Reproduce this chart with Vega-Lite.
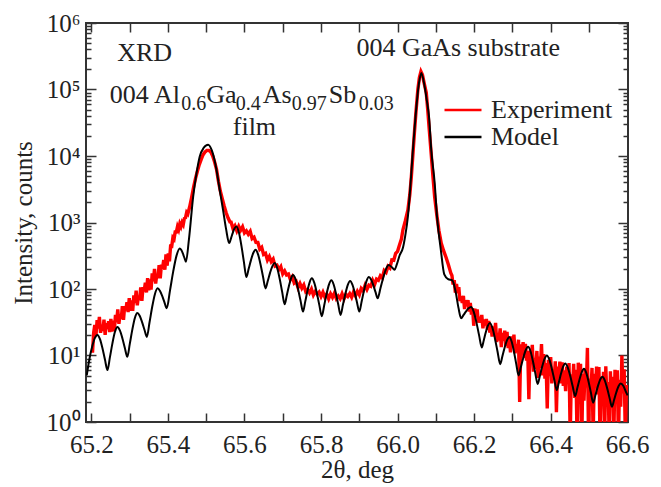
{
  "$schema": "https://vega.github.io/schema/vega-lite/v6.json",
  "width": 542,
  "height": 399,
  "autosize": {"type": "none"},
  "padding": {"left": 86, "top": 23, "right": 33, "bottom": 65},
  "background": "white",
  "config": {
    "font": "Liberation Serif",
    "view": {"stroke": "#333", "strokeWidth": 2},
    "axis": {"domain": false, "grid": false, "tickColor": "#333", "tickWidth": 1.5, "labelFont": "Liberation Serif", "labelFontSize": 25, "labelColor": "#222", "titleFont": "Liberation Serif", "titleFontSize": 25, "titleFontWeight": "normal", "titleColor": "#222", "labelFlush": false, "labelOverlap": false, "labelBound": false}
  },
  "datasets": {
    "exp": [
      {"two_theta":65.203,"counts":11},{"two_theta":65.206,"counts":22},{"two_theta":65.209,"counts":28.7},{"two_theta":65.212,"counts":19.7},{"two_theta":65.215,"counts":33.9},{"two_theta":65.218,"counts":25.5},{"two_theta":65.221,"counts":38.0},{"two_theta":65.224,"counts":21.9},{"two_theta":65.227,"counts":29.0},{"two_theta":65.230,"counts":23.5},{"two_theta":65.233,"counts":34.5},{"two_theta":65.236,"counts":20.4},{"two_theta":65.239,"counts":30.6},{"two_theta":65.242,"counts":25.2},{"two_theta":65.245,"counts":32.7},{"two_theta":65.248,"counts":22.5},
      {"two_theta":65.251,"counts":35.4},{"two_theta":65.254,"counts":22.9},{"two_theta":65.257,"counts":33.4},{"two_theta":65.260,"counts":23.5},{"two_theta":65.263,"counts":40.8},{"two_theta":65.266,"counts":31.7},{"two_theta":65.269,"counts":49.4},{"two_theta":65.272,"counts":30.0},{"two_theta":65.275,"counts":41.6},{"two_theta":65.278,"counts":35.5},{"two_theta":65.281,"counts":55.1},{"two_theta":65.284,"counts":34.4},{"two_theta":65.287,"counts":55.2},{"two_theta":65.290,"counts":47.9},{"two_theta":65.293,"counts":63.5},{"two_theta":65.296,"counts":45.0},
      {"two_theta":65.299,"counts":72.8},{"two_theta":65.302,"counts":47.0},{"two_theta":65.305,"counts":67.5},{"two_theta":65.308,"counts":46.8},{"two_theta":65.311,"counts":80.5},{"two_theta":65.314,"counts":61.6},{"two_theta":65.317,"counts":94.4},{"two_theta":65.320,"counts":56.7},{"two_theta":65.323,"counts":79.5},{"two_theta":65.326,"counts":68.1},{"two_theta":65.329,"counts":105.9},{"two_theta":65.332,"counts":66.5},{"two_theta":65.335,"counts":106.5},{"two_theta":65.338,"counts":92.5},{"two_theta":65.341,"counts":123.9},{"two_theta":65.344,"counts":88.7},
      {"two_theta":65.347,"counts":145.5},{"two_theta":65.350,"counts":95.5},{"two_theta":65.353,"counts":139.6},{"two_theta":65.356,"counts":97.8},{"two_theta":65.359,"counts":171.5},{"two_theta":65.362,"counts":131},{"two_theta":65.365,"counts":201},{"two_theta":65.368,"counts":120.8},{"two_theta":65.371,"counts":168.5},{"two_theta":65.374,"counts":146},{"two_theta":65.377,"counts":229},{"two_theta":65.380,"counts":144},{"two_theta":65.383,"counts":232},{"two_theta":65.386,"counts":203},{"two_theta":65.389,"counts":272},{"two_theta":65.392,"counts":195},
      {"two_theta":65.395,"counts":333},{"two_theta":65.398,"counts":224},{"two_theta":65.401,"counts":342},{"two_theta":65.404,"counts":261},{"two_theta":65.407,"counts":441},{"two_theta":65.410,"counts":439},{"two_theta":65.413,"counts":591},{"two_theta":65.416,"counts":562},{"two_theta":65.419,"counts":720},{"two_theta":65.422,"counts":720},{"two_theta":65.425,"counts":868},{"two_theta":65.428,"counts":784},{"two_theta":65.431,"counts":951},{"two_theta":65.434,"counts":866},{"two_theta":65.437,"counts":1000},{"two_theta":65.440,"counts":928},{"two_theta":65.443,"counts":1151},{"two_theta":65.446,"counts":1181},{"two_theta":65.449,"counts":1421},
      {"two_theta":65.452,"counts":1349},{"two_theta":65.457,"counts":1738},{"two_theta":65.462,"counts":2399},{"two_theta":65.467,"counts":3388},{"two_theta":65.472,"counts":4571},{"two_theta":65.477,"counts":5888},{"two_theta":65.482,"counts":7413},{"two_theta":65.487,"counts":8913},{"two_theta":65.492,"counts":10471},{"two_theta":65.497,"counts":11482},{"two_theta":65.502,"counts":12162},{"two_theta":65.507,"counts":12162},{"two_theta":65.512,"counts":11482},{"two_theta":65.517,"counts":10000},{"two_theta":65.522,"counts":8128},{"two_theta":65.527,"counts":6310},{"two_theta":65.532,"counts":4169},{"two_theta":65.537,"counts":2951},{"two_theta":65.542,"counts":2291},{"two_theta":65.547,"counts":1778},{"two_theta":65.552,"counts":1413},{"two_theta":65.557,"counts":1175},{"two_theta":65.562,"counts":1023},
      {"two_theta":65.565,"counts":1017},{"two_theta":65.570,"counts":810},{"two_theta":65.575,"counts":894},{"two_theta":65.580,"counts":749},{"two_theta":65.585,"counts":878},{"two_theta":65.590,"counts":762},{"two_theta":65.595,"counts":861},{"two_theta":65.600,"counts":698},{"two_theta":65.605,"counts":748},{"two_theta":65.610,"counts":666},{"two_theta":65.615,"counts":735},{"two_theta":65.620,"counts":574},{"two_theta":65.625,"counts":603},{"two_theta":65.630,"counts":503},{"two_theta":65.635,"counts":501},{"two_theta":65.640,"counts":397},
      {"two_theta":65.645,"counts":424},{"two_theta":65.650,"counts":330},{"two_theta":65.655,"counts":343},{"two_theta":65.660,"counts":272},{"two_theta":65.665,"counts":308},{"two_theta":65.670,"counts":258},{"two_theta":65.675,"counts":282},{"two_theta":65.680,"counts":221},{"two_theta":65.685,"counts":228},{"two_theta":65.690,"counts":196},{"two_theta":65.695,"counts":217},{"two_theta":65.700,"counts":169},{"two_theta":65.705,"counts":187},{"two_theta":65.710,"counts":163},{"two_theta":65.715,"counts":168},{"two_theta":65.720,"counts":138},
      {"two_theta":65.725,"counts":153},{"two_theta":65.730,"counts":123},{"two_theta":65.735,"counts":130},{"two_theta":65.740,"counts":105},{"two_theta":65.745,"counts":121},{"two_theta":65.750,"counts":103},{"two_theta":65.755,"counts":115},{"two_theta":65.760,"counts":92},{"two_theta":65.765,"counts":98.4},{"two_theta":65.770,"counts":87.4},{"two_theta":65.775,"counts":100},{"two_theta":65.780,"counts":81},{"two_theta":65.785,"counts":92.2},{"two_theta":65.790,"counts":83.3},{"two_theta":65.795,"counts":89.9},{"two_theta":65.800,"counts":77.2},
      {"two_theta":65.805,"counts":89.4},{"two_theta":65.810,"counts":75.3},{"two_theta":65.815,"counts":84},{"two_theta":65.820,"counts":71.1},{"two_theta":65.825,"counts":84.8},{"two_theta":65.830,"counts":74.9},{"two_theta":65.835,"counts":86.6},{"two_theta":65.840,"counts":71.8},{"two_theta":65.845,"counts":78.5},{"two_theta":65.850,"counts":71.4},{"two_theta":65.855,"counts":84.7},{"two_theta":65.860,"counts":71},{"two_theta":65.865,"counts":83.2},{"two_theta":65.870,"counts":77.4},{"two_theta":65.875,"counts":85.6},{"two_theta":65.880,"counts":75.3},
      {"two_theta":65.885,"counts":90.5},{"two_theta":65.890,"counts":79},{"two_theta":65.895,"counts":92.4},{"two_theta":65.900,"counts":81.9},{"two_theta":65.905,"counts":102},{"two_theta":65.910,"counts":94.1},{"two_theta":65.915,"counts":113},{"two_theta":65.920,"counts":98.4},{"two_theta":65.925,"counts":114},{"two_theta":65.930,"counts":110},{"two_theta":65.935,"counts":135},{"two_theta":65.940,"counts":117},{"two_theta":65.945,"counts":141},{"two_theta":65.950,"counts":135},{"two_theta":65.955,"counts":158},{"two_theta":65.960,"counts":147},
      {"two_theta":65.965,"counts":190},{"two_theta":65.970,"counts":178},{"two_theta":65.975,"counts":219},{"two_theta":65.980,"counts":206},{"two_theta":65.985,"counts":274},{"two_theta":65.990,"counts":271},{"two_theta":65.995,"counts":343},{"two_theta":66.000,"counts":369},
      {"two_theta":66.005,"counts":457},{"two_theta":66.010,"counts":562},{"two_theta":66.014,"counts":776},{"two_theta":66.020,"counts":1047},{"two_theta":66.027,"counts":1549},{"two_theta":66.032,"counts":2630},{"two_theta":66.036,"counts":4898},{"two_theta":66.040,"counts":10471},{"two_theta":66.044,"counts":22387},{"two_theta":66.048,"counts":45709},{"two_theta":66.053,"counts":100000},{"two_theta":66.057,"counts":151356},{"two_theta":66.061,"counts":186209},{"two_theta":66.065,"counts":165959},{"two_theta":66.070,"counts":120226},{"two_theta":66.075,"counts":89125},{"two_theta":66.079,"counts":47863},{"two_theta":66.083,"counts":23988},{"two_theta":66.088,"counts":10471},{"two_theta":66.092,"counts":5248},{"two_theta":66.097,"counts":2399},{"two_theta":66.103,"counts":1230},{"two_theta":66.108,"counts":759},{"two_theta":66.114,"counts":490},{"two_theta":66.120,"counts":380},{"two_theta":66.127,"counts":295},{"two_theta":66.133,"counts":229},{"two_theta":66.139,"counts":174},
      {"two_theta":66.142,"counts":160},{"two_theta":66.145,"counts":117},{"two_theta":66.148,"counts":136},{"two_theta":66.151,"counts":88},{"two_theta":66.154,"counts":119},{"two_theta":66.157,"counts":86.5},{"two_theta":66.160,"counts":107},{"two_theta":66.163,"counts":65.9},{"two_theta":66.166,"counts":77.8},{"two_theta":66.169,"counts":61.6},{"two_theta":66.172,"counts":79},{"two_theta":66.175,"counts":49.8},{"two_theta":66.178,"counts":67.8},{"two_theta":66.181,"counts":55},{"two_theta":66.184,"counts":67.9},{"two_theta":66.187,"counts":45.8},
      {"two_theta":66.190,"counts":61.6},{"two_theta":66.193,"counts":41.1},{"two_theta":66.196,"counts":51.5},{"two_theta":66.199,"counts":28},{"two_theta":66.202,"counts":50.6},{"two_theta":66.205,"counts":38.3},{"two_theta":66.208,"counts":49.5},{"two_theta":66.211,"counts":31.2},{"two_theta":66.214,"counts":38.1},{"two_theta":66.217,"counts":31.2},{"two_theta":66.220,"counts":40.7},{"two_theta":66.223,"counts":25.7},{"two_theta":66.226,"counts":34.9},{"two_theta":66.229,"counts":28.4},{"two_theta":66.232,"counts":35.4},{"two_theta":66.235,"counts":24.3},
      {"two_theta":66.238,"counts":33.1},{"two_theta":66.241,"counts":22.1},{"two_theta":66.244,"counts":27.6},{"two_theta":66.247,"counts":19.2},{"two_theta":66.250,"counts":27.4},{"two_theta":66.253,"counts":20.3},{"two_theta":66.256,"counts":30.9},{"two_theta":66.259,"counts":16.0},{"two_theta":66.262,"counts":21.9},{"two_theta":66.265,"counts":16.8},{"two_theta":66.268,"counts":25.6},{"two_theta":66.271,"counts":13.4},{"two_theta":66.274,"counts":21.9},{"two_theta":66.277,"counts":16.6},{"two_theta":66.280,"counts":23.7},{"two_theta":66.283,"counts":13.8},
      {"two_theta":66.286,"counts":22.7},{"two_theta":66.289,"counts":12.9},{"two_theta":66.292,"counts":18.4},{"two_theta":66.295,"counts":11.1},{"two_theta":66.298,"counts":19.4},{"two_theta":66.301,"counts":13.5},{"two_theta":66.304,"counts":20.6},{"two_theta":66.307,"counts":10.8},{"two_theta":66.310,"counts":14.8},{"two_theta":66.313,"counts":11.3},{"two_theta":66.316,"counts":17.3},{"two_theta":66.319,"counts":2.0},{"two_theta":66.322,"counts":14.8},{"two_theta":66.325,"counts":11.3},{"two_theta":66.328,"counts":15.9},{"two_theta":66.331,"counts":9.2},
      {"two_theta":66.334,"counts":15.0},{"two_theta":66.337,"counts":8.4},{"two_theta":66.340,"counts":11.8},{"two_theta":66.343,"counts":2.2},{"two_theta":66.346,"counts":11.9},{"two_theta":66.349,"counts":8.1},{"two_theta":66.352,"counts":14.5},{"two_theta":66.355,"counts":5.7},{"two_theta":66.358,"counts":9.2},{"two_theta":66.361,"counts":6.3},{"two_theta":66.364,"counts":11.7},{"two_theta":66.367,"counts":4.6},{"two_theta":66.370,"counts":9.6},{"two_theta":66.373,"counts":6.5},{"two_theta":66.376,"counts":14.8},{"two_theta":66.379,"counts":5.0},
      {"two_theta":66.382,"counts":10.5},{"two_theta":66.385,"counts":4.5},{"two_theta":66.388,"counts":7.7},{"two_theta":66.391,"counts":1.6},{"two_theta":66.394,"counts":8.6},{"two_theta":66.397,"counts":5.0},{"two_theta":66.400,"counts":9.5},{"two_theta":66.403,"counts":3.8},{"two_theta":66.406,"counts":6.2},{"two_theta":66.409,"counts":4.3},{"two_theta":66.412,"counts":8.2},{"two_theta":66.415,"counts":1.4},{"two_theta":66.418,"counts":6.8},{"two_theta":66.421,"counts":4.7},{"two_theta":66.424,"counts":8.1},{"two_theta":66.427,"counts":3.8},
      {"two_theta":66.430,"counts":7.9},{"two_theta":66.433,"counts":3.5},{"two_theta":66.436,"counts":6.0},{"two_theta":66.439,"counts":2.9},{"two_theta":66.442,"counts":6.8},{"two_theta":66.445,"counts":4.0},{"two_theta":66.448,"counts":7.7},{"two_theta":66.451,"counts":0.6},{"two_theta":66.454,"counts":5.2},{"two_theta":66.457,"counts":3.2},{"two_theta":66.460,"counts":7.5},{"two_theta":66.463,"counts":2.3},{"two_theta":66.466,"counts":6.1},{"two_theta":66.469,"counts":0.5},{"two_theta":66.472,"counts":7.8},{"two_theta":66.475,"counts":2.9},
      {"two_theta":66.478,"counts":7.5},{"two_theta":66.481,"counts":0.4},{"two_theta":66.484,"counts":5.3},{"two_theta":66.487,"counts":2.1},{"two_theta":66.490,"counts":6.4},{"two_theta":66.493,"counts":3.3},{"two_theta":66.496,"counts":13},{"two_theta":66.499,"counts":0.5},{"two_theta":66.502,"counts":4.5},{"two_theta":66.505,"counts":2.8},{"two_theta":66.508,"counts":6.5},{"two_theta":66.511,"counts":0.6},{"two_theta":66.514,"counts":5.3},{"two_theta":66.517,"counts":3.4},{"two_theta":66.520,"counts":6.8},{"two_theta":66.523,"counts":2.6},
      {"two_theta":66.526,"counts":6.7},{"two_theta":66.529,"counts":0.5},{"two_theta":66.532,"counts":4.8},{"two_theta":66.535,"counts":1.9},{"two_theta":66.538,"counts":5.7},{"two_theta":66.541,"counts":0.6},{"two_theta":66.544,"counts":6.9},{"two_theta":66.547,"counts":2.1},{"two_theta":66.550,"counts":4.0},{"two_theta":66.553,"counts":0.5},{"two_theta":66.556,"counts":5.8},{"two_theta":66.559,"counts":1.8},{"two_theta":66.562,"counts":4.8},{"two_theta":66.565,"counts":0.6},{"two_theta":66.568,"counts":6.1},{"two_theta":66.571,"counts":2.3},
      {"two_theta":66.574,"counts":6.0},{"two_theta":66.577,"counts":0.5},{"two_theta":66.580,"counts":4.3},{"two_theta":66.583,"counts":1.7},{"two_theta":66.586,"counts":10},{"two_theta":66.589,"counts":2.7},{"two_theta":66.592,"counts":6.2},{"two_theta":66.595,"counts":0.6},{"two_theta":66.598,"counts":3.6}
    ],
    "model": [
      {"two_theta":65.188,"counts":5.01},{"two_theta":65.195,"counts":8.91},{"two_theta":65.202,"counts":13.5},{"two_theta":65.209,"counts":18.2},{"two_theta":65.216,"counts":20.4},{"two_theta":65.2225,"counts":17.6},{"two_theta":65.229,"counts":12.85},{"two_theta":65.2355,"counts":8.69},{"two_theta":65.242,"counts":6.03},{"two_theta":65.2485,"counts":9.44},{"two_theta":65.255,"counts":15.24},{"two_theta":65.2615,"counts":22.5},{"two_theta":65.268,"counts":26.9},{"two_theta":65.2745,"counts":23.8},{"two_theta":65.281,"counts":18.2},{"two_theta":65.2875,"counts":13.0},
      {"two_theta":65.294,"counts":9.55},{"two_theta":65.3005,"counts":15.07},{"two_theta":65.307,"counts":24.5},{"two_theta":65.3135,"counts":36.4},{"two_theta":65.320,"counts":43.7},{"two_theta":65.32625,"counts":39.5},{"two_theta":65.3325,"counts":31.8},{"two_theta":65.33875,"counts":24.4},{"two_theta":65.345,"counts":19.05},{"two_theta":65.352,"counts":31.6},{"two_theta":65.359,"counts":54.1},{"two_theta":65.366,"counts":83.6},{"two_theta":65.373,"counts":102.3},{"two_theta":65.379,"counts":94.2},{"two_theta":65.385,"counts":78.7},{"two_theta":65.391,"counts":63.1},
      {"two_theta":65.397,"counts":51.3},{"two_theta":65.4055,"counts":95.5},{"two_theta":65.414,"counts":185.4},{"two_theta":65.4225,"counts":317.7},{"two_theta":65.431,"counts":407.4},{"two_theta":65.435,"counts":385.5},{"two_theta":65.439,"counts":342},{"two_theta":65.443,"counts":295},{"two_theta":65.447,"counts":257},{"two_theta":65.455,"counts":562},{"two_theta":65.466,"counts":2455},{"two_theta":65.475,"counts":5623},{"two_theta":65.483,"counts":9772},{"two_theta":65.493,"counts":13183},{"two_theta":65.505,"counts":14791},{"two_theta":65.515,"counts":12023},
      {"two_theta":65.527,"counts":6166},{"two_theta":65.535,"counts":3162},{"two_theta":65.544,"counts":1549},{"two_theta":65.552,"counts":794},{"two_theta":65.560,"counts":490},{"two_theta":65.565,"counts":582},{"two_theta":65.5695,"counts":700},{"two_theta":65.574,"counts":813},{"two_theta":65.579,"counts":871},{"two_theta":65.5855,"counts":706},{"two_theta":65.592,"counts":448},{"two_theta":65.5985,"counts":256},{"two_theta":65.605,"counts":151},{"two_theta":65.611,"counts":201},{"two_theta":65.617,"counts":272},{"two_theta":65.623,"counts":348},
      {"two_theta":65.629,"counts":389},{"two_theta":65.6355,"counts":331},{"two_theta":65.642,"counts":234},{"two_theta":65.6485,"counts":153},{"two_theta":65.655,"counts":102},{"two_theta":65.661,"counts":133},{"two_theta":65.667,"counts":176},{"two_theta":65.673,"counts":221},{"two_theta":65.679,"counts":245.5},{"two_theta":65.6855,"counts":207},{"two_theta":65.692,"counts":142.6},{"two_theta":65.6985,"counts":90.4},{"two_theta":65.705,"counts":58.9},{"two_theta":65.7105,"counts":79.8},{"two_theta":65.716,"counts":110.4},{"two_theta":65.7215,"counts":143.6},
      {"two_theta":65.727,"counts":162.2},{"two_theta":65.7335,"counts":139.3},{"two_theta":65.740,"counts":100.2},{"two_theta":65.7465,"counts":66.8},{"two_theta":65.753,"counts":45.7},{"two_theta":65.75875,"counts":64.6},{"two_theta":65.7645,"counts":93.3},{"two_theta":65.77025,"counts":125.9},{"two_theta":65.776,"counts":144.5},{"two_theta":65.7825,"counts":123.6},{"two_theta":65.789,"counts":87.7},{"two_theta":65.7955,"counts":57.7},{"two_theta":65.802,"counts":38.9},{"two_theta":65.80825,"counts":56.5},{"two_theta":65.8145,"counts":84.1},{"two_theta":65.82075,"counts":116.1},
      {"two_theta":65.827,"counts":134.9},{"two_theta":65.833,"counts":116.9},{"two_theta":65.839,"counts":85.5},{"two_theta":65.845,"counts":58.3},{"two_theta":65.851,"counts":40.7},{"two_theta":65.85725,"counts":57.9},{"two_theta":65.8635,"counts":84.3},{"two_theta":65.86975,"counts":114.6},{"two_theta":65.876,"counts":131.8},{"two_theta":65.882,"counts":116.1},{"two_theta":65.888,"counts":88.1},{"two_theta":65.894,"counts":62.8},{"two_theta":65.900,"counts":45.7},{"two_theta":65.90625,"counts":65.5},{"two_theta":65.9125,"counts":95.9},{"two_theta":65.91875,"counts":131.2},
      {"two_theta":65.925,"counts":151.4},{"two_theta":65.93075,"counts":138.7},{"two_theta":65.9365,"counts":114.3},{"two_theta":65.94225,"counts":90.4},{"two_theta":65.948,"counts":72.4},{"two_theta":65.95525,"counts":102.3},{"two_theta":65.9625,"counts":147.9},{"two_theta":65.96975,"counts":199.5},{"two_theta":65.977,"counts":229},{"two_theta":65.9845,"counts":213.8},{"two_theta":65.992,"counts":195},{"two_theta":65.998,"counts":234.4},{"two_theta":66.005,"counts":316},{"two_theta":66.014,"counts":417},{"two_theta":66.020,"counts":631},{"two_theta":66.027,"counts":1230},
      {"two_theta":66.034,"counts":3890},{"two_theta":66.040,"counts":12303},{"two_theta":66.047,"counts":39811},{"two_theta":66.056,"counts":125893},{"two_theta":66.062,"counts":177828},{"two_theta":66.069,"counts":125893},{"two_theta":66.076,"counts":70795},{"two_theta":66.082,"counts":39811},{"two_theta":66.088,"counts":12303},{"two_theta":66.097,"counts":3890},{"two_theta":66.103,"counts":1230},{"two_theta":66.113,"counts":389},{"two_theta":66.122,"counts":166},{"two_theta":66.132,"counts":141},{"two_theta":66.143,"counts":135},{"two_theta":66.152,"counts":89.1},
      {"two_theta":66.159,"counts":52.5},{"two_theta":66.166,"counts":36.3},{"two_theta":66.1725,"counts":40.8},{"two_theta":66.179,"counts":46.2},{"two_theta":66.1855,"counts":51.3},{"two_theta":66.192,"counts":53.7},{"two_theta":66.199,"counts":45.4},{"two_theta":66.206,"counts":31.5},{"two_theta":66.213,"counts":20.1},{"two_theta":66.220,"counts":13.2},{"two_theta":66.22525,"counts":17.0},{"two_theta":66.2305,"counts":22.3},{"two_theta":66.23575,"counts":27.9},{"two_theta":66.241,"counts":30.9},{"two_theta":66.24775,"counts":26.1},{"two_theta":66.2545,"counts":17.9},
      {"two_theta":66.26125,"counts":11.4},{"two_theta":66.268,"counts":7.41},{"two_theta":66.274,"counts":9.84},{"two_theta":66.280,"counts":13.3},{"two_theta":66.286,"counts":17.0},{"two_theta":66.292,"counts":19.05},{"two_theta":66.298,"counts":16.2},{"two_theta":66.304,"counts":11.5},{"two_theta":66.310,"counts":7.48},{"two_theta":66.316,"counts":5.01},{"two_theta":66.32225,"counts":6.75},{"two_theta":66.3285,"counts":9.27},{"two_theta":66.33475,"counts":12.0},{"two_theta":66.341,"counts":13.5},{"two_theta":66.34725,"counts":11.6},{"two_theta":66.3535,"counts":8.26},
      {"two_theta":66.35975,"counts":5.47},{"two_theta":66.366,"counts":3.72},{"two_theta":66.372,"counts":5.0},{"two_theta":66.378,"counts":6.87},{"two_theta":66.384,"counts":8.87},{"two_theta":66.390,"counts":10},{"two_theta":66.3965,"counts":8.67},{"two_theta":66.403,"counts":6.34},{"two_theta":66.4095,"counts":4.33},{"two_theta":66.416,"counts":3.02},{"two_theta":66.4215,"counts":3.98},{"two_theta":66.427,"counts":5.35},{"two_theta":66.4325,"counts":6.79},{"two_theta":66.438,"counts":7.59},{"two_theta":66.4445,"counts":6.62},{"two_theta":66.451,"counts":4.94},
      {"two_theta":66.4575,"counts":3.44},{"two_theta":66.464,"counts":2.45},{"two_theta":66.46975,"counts":3.26},{"two_theta":66.4755,"counts":4.41},{"two_theta":66.48125,"counts":5.64},{"two_theta":66.487,"counts":6.31},{"two_theta":66.493,"counts":5.48},{"two_theta":66.499,"counts":4.04},{"two_theta":66.505,"counts":2.77},{"two_theta":66.511,"counts":1.95},{"two_theta":66.517,"counts":2.55},{"two_theta":66.523,"counts":3.40},{"two_theta":66.529,"counts":4.30},{"two_theta":66.535,"counts":4.79},{"two_theta":66.54125,"counts":4.23},{"two_theta":66.5475,"counts":3.23},
      {"two_theta":66.55375,"counts":2.32},{"two_theta":66.560,"counts":1.70},{"two_theta":66.56575,"counts":2.16},{"two_theta":66.5715,"counts":2.80},{"two_theta":66.57725,"counts":3.45},{"two_theta":66.583,"counts":3.80},{"two_theta":66.590,"counts":3.47},{"two_theta":66.596,"counts":2.88},{"two_theta":66.601,"counts":2.51}
    ]
  },
  "layer": [
    {
      "data": {"name": "exp"},
      "mark": {"type": "line", "clip": true, "strokeWidth": 3.4, "interpolate": "linear"},
      "encoding": {
        "x": {"field": "two_theta", "type": "quantitative", "scale": {"domain": [65.186, 66.602], "nice": false, "zero": false},
          "axis": {"orient": "bottom", "values": [65.2, 65.3, 65.4, 65.5, 65.6, 65.7, 65.8, 65.9, 66.0, 66.1, 66.2, 66.3, 66.4, 66.5, 66.6], "tickSize": -9, "labelPadding": 19, "labelExpr": "round(datum.value*10) % 2 == 0 ? format(datum.value, '.1f') : ''", "title": "2θ, deg", "titleY": 55, "titleBaseline": "alphabetic"}},
        "y": {"field": "counts", "type": "quantitative", "scale": {"type": "log", "domain": [1, 1000000], "nice": false},
          "axis": {"orient": "left", "values": [1, 10, 100, 1000, 10000, 100000, 1000000], "tickSize": -10, "labelPadding": 16, "labelExpr": "'10' + ['⁰','¹','²','³','⁴','⁵','⁶'][round(log(datum.value)/LN10)]", "title": "Intensity, counts", "titleX": -55, "titleY": 199.5, "titleAngle": 270, "titleBaseline": "alphabetic", "titleAlign": "center"}},
        "color": {"datum": "Experiment", "type": "nominal", "scale": {"domain": ["Experiment", "Model"], "range": ["#ff0000", "#000000"]},
          "legend": {"orient": "none", "legendX": 364, "legendY": 74, "title": null, "symbolType": "M-2,0H2", "symbolSize": 342, "symbolStrokeWidth": 2.5, "labelFontSize": 26, "labelFont": "Liberation Serif", "labelColor": "#222", "labelOffset": 15, "rowPadding": 1, "padding": 0}}
      }
    },
    {
      "data": {"name": "model"},
      "mark": {"type": "line", "clip": true, "strokeWidth": 2, "interpolate": "monotone"},
      "encoding": {
        "x": {"field": "two_theta", "type": "quantitative", "axis": {"orient": "top", "values": [65.2, 65.3, 65.4, 65.5, 65.6, 65.7, 65.8, 65.9, 66.0, 66.1, 66.2, 66.3, 66.4, 66.5, 66.6], "tickSize": -9, "labels": false, "title": null}},
        "y": {"field": "counts", "type": "quantitative", "scale": {"type": "log"}, "axis": {"orient": "right", "values": [1, 10, 100, 1000, 10000, 100000, 1000000], "tickSize": -10, "labels": false, "title": null}},
        "color": {"datum": "Model", "type": "nominal"}
      }
    },
    {
      "data": {"name": "model"},
      "mark": {"type": "line", "opacity": 0},
      "encoding": {
        "x": {"field": "two_theta", "type": "quantitative", "axis": null},
        "y": {"field": "counts", "type": "quantitative", "scale": {"type": "log"}, "axis": {"orient": "left", "values": [2,3,4,5,6,7,8,9,20,30,40,50,60,70,80,90,200,300,400,500,600,700,800,900,2000,3000,4000,5000,6000,7000,8000,9000,20000,30000,40000,50000,60000,70000,80000,90000,200000,300000,400000,500000,600000,700000,800000,900000], "tickSize": -5, "labels": false, "title": null}}
      }
    },
    {
      "data": {"name": "model"},
      "mark": {"type": "line", "opacity": 0},
      "encoding": {
        "x": {"field": "two_theta", "type": "quantitative", "axis": null},
        "y": {"field": "counts", "type": "quantitative", "scale": {"type": "log"}, "axis": {"orient": "right", "values": [2,3,4,5,6,7,8,9,20,30,40,50,60,70,80,90,200,300,400,500,600,700,800,900,2000,3000,4000,5000,6000,7000,8000,9000,20000,30000,40000,50000,60000,70000,80000,90000,200000,300000,400000,500000,600000,700000,800000,900000], "tickSize": -5, "labels": false, "title": null}}
      }
    },
    {
      "data": {"values": [{}]},
      "mark": {"type": "text", "align": "left", "baseline": "alphabetic", "fontSize": 26, "color": "#222", "font": "Liberation Serif"},
      "encoding": {"x": {"datum": 65.2674, "type": "quantitative", "axis": null}, "y": {"datum": 272000, "type": "quantitative", "scale": {"type": "log"}, "axis": null}, "text": {"value": "XRD"}}
    },
    {
      "data": {"values": [{}]},
      "mark": {"type": "text", "align": "left", "baseline": "alphabetic", "fontSize": 26, "color": "#222", "font": "Liberation Serif"},
      "encoding": {"x": {"datum": 65.8924, "type": "quantitative", "axis": null}, "y": {"datum": 316000, "type": "quantitative", "scale": {"type": "log"}, "axis": null}, "text": {"value": "004 GaAs substrate"}}
    },
    {
      "data": {"values": [{}]},
      "mark": {"type": "text", "align": "left", "baseline": "alphabetic", "fontSize": 26, "color": "#222", "font": "Liberation Serif"},
      "encoding": {"x": {"datum": 65.2483, "type": "quantitative", "axis": null}, "y": {"datum": 63400, "type": "quantitative", "scale": {"type": "log"}, "axis": null}, "text": {"value": "004 Al"}}
    },
    {
      "data": {"values": [{}]},
      "mark": {"type": "text", "align": "left", "baseline": "alphabetic", "fontSize": 20, "color": "#222", "font": "Liberation Serif"},
      "encoding": {"x": {"datum": 65.435, "type": "quantitative", "axis": null}, "y": {"datum": 48900, "type": "quantitative", "scale": {"type": "log"}, "axis": null}, "text": {"value": "0.6"}}
    },
    {
      "data": {"values": [{}]},
      "mark": {"type": "text", "align": "left", "baseline": "alphabetic", "fontSize": 26, "color": "#222", "font": "Liberation Serif"},
      "encoding": {"x": {"datum": 65.5003, "type": "quantitative", "axis": null}, "y": {"datum": 63400, "type": "quantitative", "scale": {"type": "log"}, "axis": null}, "text": {"value": "Ga"}}
    },
    {
      "data": {"values": [{}]},
      "mark": {"type": "text", "align": "left", "baseline": "alphabetic", "fontSize": 20, "color": "#222", "font": "Liberation Serif"},
      "encoding": {"x": {"datum": 65.5773, "type": "quantitative", "axis": null}, "y": {"datum": 48900, "type": "quantitative", "scale": {"type": "log"}, "axis": null}, "text": {"value": "0.4"}}
    },
    {
      "data": {"values": [{}]},
      "mark": {"type": "text", "align": "left", "baseline": "alphabetic", "fontSize": 26, "color": "#222", "font": "Liberation Serif"},
      "encoding": {"x": {"datum": 65.6478, "type": "quantitative", "axis": null}, "y": {"datum": 63400, "type": "quantitative", "scale": {"type": "log"}, "axis": null}, "text": {"value": "As"}}
    },
    {
      "data": {"values": [{}]},
      "mark": {"type": "text", "align": "left", "baseline": "alphabetic", "fontSize": 20, "color": "#222", "font": "Liberation Serif"},
      "encoding": {"x": {"datum": 65.7235, "type": "quantitative", "axis": null}, "y": {"datum": 48900, "type": "quantitative", "scale": {"type": "log"}, "axis": null}, "text": {"value": "0.97"}}
    },
    {
      "data": {"values": [{}]},
      "mark": {"type": "text", "align": "left", "baseline": "alphabetic", "fontSize": 26, "color": "#222", "font": "Liberation Serif"},
      "encoding": {"x": {"datum": 65.8201, "type": "quantitative", "axis": null}, "y": {"datum": 63400, "type": "quantitative", "scale": {"type": "log"}, "axis": null}, "text": {"value": "Sb"}}
    },
    {
      "data": {"values": [{}]},
      "mark": {"type": "text", "align": "left", "baseline": "alphabetic", "fontSize": 20, "color": "#222", "font": "Liberation Serif"},
      "encoding": {"x": {"datum": 65.8984, "type": "quantitative", "axis": null}, "y": {"datum": 48900, "type": "quantitative", "scale": {"type": "log"}, "axis": null}, "text": {"value": "0.03"}}
    },
    {
      "data": {"values": [{}]},
      "mark": {"type": "text", "align": "center", "baseline": "alphabetic", "fontSize": 26, "color": "#222", "font": "Liberation Serif"},
      "encoding": {"x": {"datum": 65.626, "type": "quantitative", "axis": null}, "y": {"datum": 20500, "type": "quantitative", "scale": {"type": "log"}, "axis": null}, "text": {"value": "film"}}
    }
  ],
  "resolve": {"axis": {"x": "independent", "y": "independent"}}
}
